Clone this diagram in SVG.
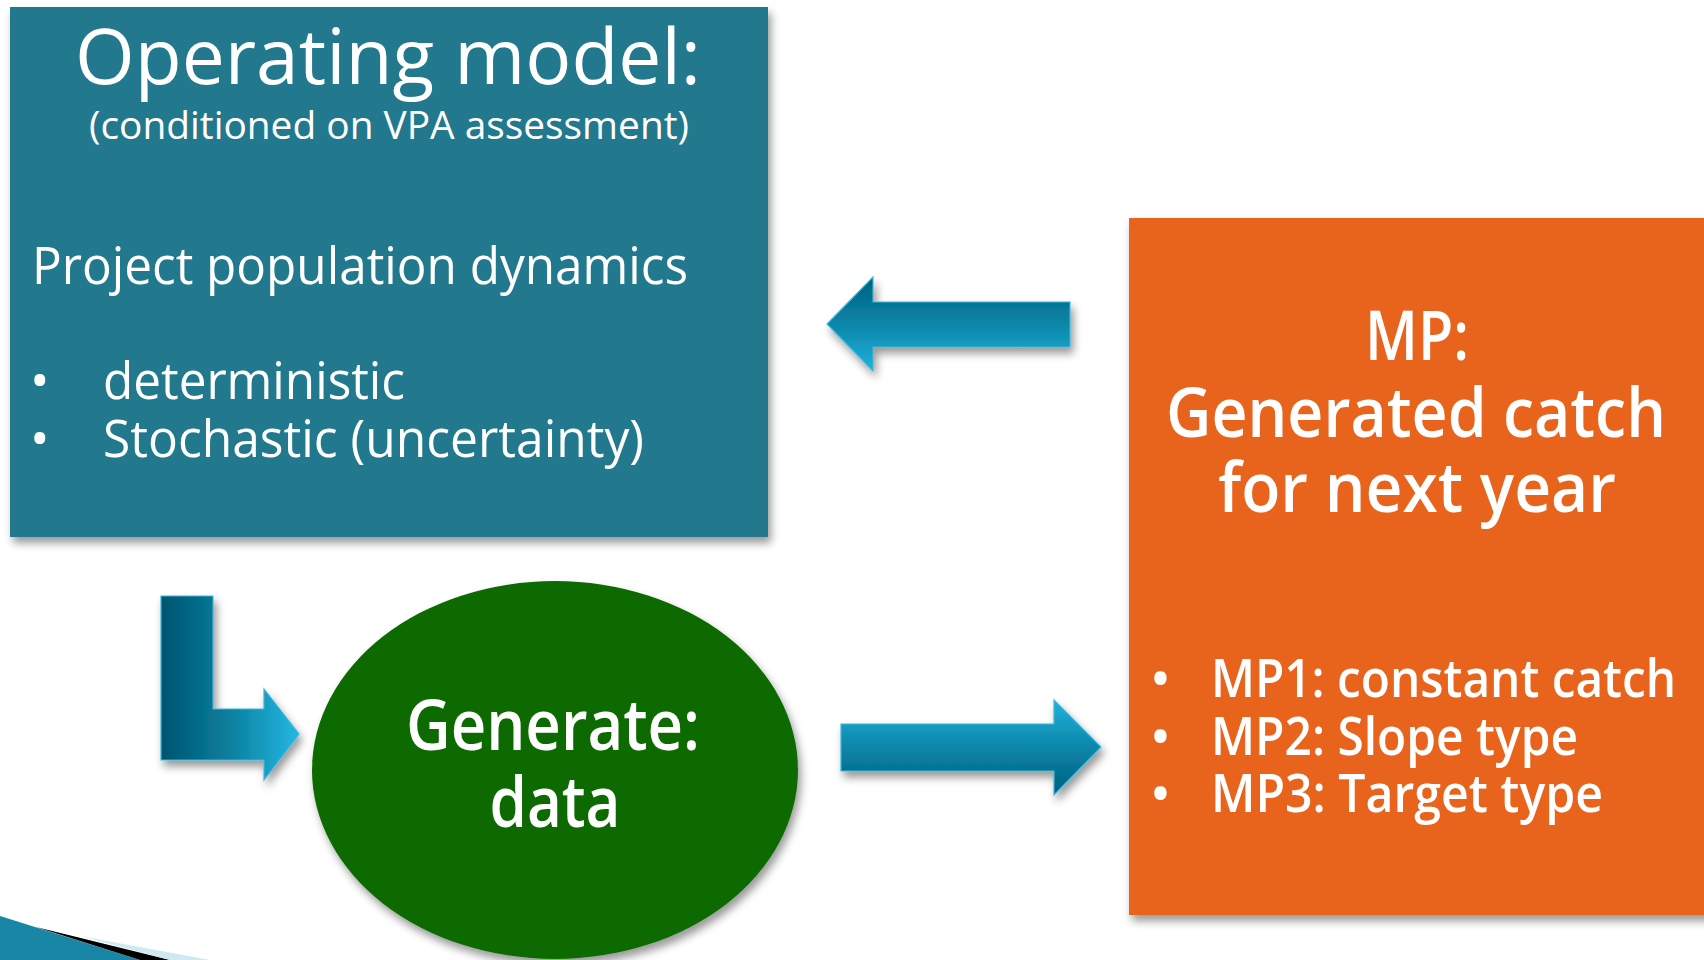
<svg xmlns="http://www.w3.org/2000/svg" width="1704" height="960" viewBox="0 0 1704 960">
  <defs>
    <filter id="shadow" x="-10%" y="-10%" width="125%" height="130%">
      <feDropShadow dx="3" dy="6" stdDeviation="4" flood-color="#000" flood-opacity="0.4"/>
    </filter>
    <linearGradient id="gLeft" x1="0" y1="0" x2="0" y2="1">
      <stop offset="0" stop-color="#005F7C"/>
      <stop offset="0.5" stop-color="#0A86A8"/>
      <stop offset="1" stop-color="#22B2DC"/>
    </linearGradient>
    <linearGradient id="gRight" x1="0" y1="0" x2="0" y2="1">
      <stop offset="0" stop-color="#22B2DC"/>
      <stop offset="0.5" stop-color="#0A86A8"/>
      <stop offset="1" stop-color="#005F7C"/>
    </linearGradient>
    <linearGradient id="gBent" x1="0" y1="0" x2="1" y2="0">
      <stop offset="0" stop-color="#00546F"/>
      <stop offset="0.5" stop-color="#0A809F"/>
      <stop offset="1" stop-color="#25B8E2"/>
    </linearGradient>
    <style>
      text { font-family: "Open Sans", "DejaVu Sans", sans-serif; fill: #ffffff; }
      .bold { font-weight: 600; }
      .arrow { stroke: #3DB6DA; stroke-width: 1.2; filter: url(#shadow); }
    </style>
  </defs>

  <rect width="1704" height="960" fill="#ffffff"/>

  <!-- corner decoration -->
  <g id="corner-decoration">
    <polygon points="0,916 140,960 0,960" fill="#1A86A6"/>
    <polygon points="36,927 170,960 140,960" fill="#000000"/>
    <polygon points="80,936 210,960 170,960" fill="#CFE8F2"/>
  </g>

  <g id="node-operating-model">
    <rect x="10" y="7" width="758" height="530" fill="#22798D" filter="url(#shadow)"/>
    <text x="388" y="84" font-size="76" text-anchor="middle" textLength="626" lengthAdjust="spacingAndGlyphs">Operating model:</text>
    <text x="389" y="139" font-size="38" text-anchor="middle" textLength="600" lengthAdjust="spacingAndGlyphs">(conditioned on VPA assessment)</text>
    <text x="32" y="284" font-size="51" textLength="656" lengthAdjust="spacingAndGlyphs">Project population dynamics</text>
    <text x="30" y="399" font-size="52">•</text>
    <text x="103" y="399" font-size="51" textLength="302" lengthAdjust="spacingAndGlyphs">deterministic</text>
    <text x="30" y="457" font-size="52">•</text>
    <text x="103" y="457" font-size="51" textLength="541" lengthAdjust="spacingAndGlyphs">Stochastic (uncertainty)</text>
  </g>

  <g id="node-mp">
    <rect x="1129" y="218" width="580" height="697" fill="#E8641E" filter="url(#shadow)"/>
    <text class="bold" x="1417" y="360" font-size="68" text-anchor="middle" textLength="104" lengthAdjust="spacingAndGlyphs">MP:</text>
    <text class="bold" x="1416" y="437" font-size="68" text-anchor="middle" textLength="500" lengthAdjust="spacingAndGlyphs">Generated catch</text>
    <text class="bold" x="1417" y="512" font-size="68" text-anchor="middle" textLength="398" lengthAdjust="spacingAndGlyphs">for next year</text>
    <text class="bold" x="1151" y="697" font-size="50">•</text>
    <text class="bold" x="1211" y="697" font-size="52" textLength="465" lengthAdjust="spacingAndGlyphs">MP1: constant catch</text>
    <text class="bold" x="1151" y="755" font-size="50">•</text>
    <text class="bold" x="1211" y="755" font-size="52" textLength="367" lengthAdjust="spacingAndGlyphs">MP2: Slope type</text>
    <text class="bold" x="1151" y="812" font-size="50">•</text>
    <text class="bold" x="1211" y="812" font-size="52" textLength="392" lengthAdjust="spacingAndGlyphs">MP3: Target type</text>
  </g>

  <g id="node-generate">
    <ellipse cx="555" cy="770" rx="243" ry="189" fill="#0F6A00" filter="url(#shadow)"/>
    <text class="bold" x="553" y="750" font-size="70" text-anchor="middle" textLength="294" lengthAdjust="spacingAndGlyphs">Generate:</text>
    <text class="bold" x="555" y="827" font-size="70" text-anchor="middle" textLength="131" lengthAdjust="spacingAndGlyphs">data</text>
  </g>

  <g id="connectors">
    <!-- MP -> Operating model -->
    <polygon class="arrow" fill="url(#gLeft)" points="1070,302 873,302 873,277 827,324 873,371 873,347 1070,347"/>
    <!-- Generate -> MP -->
    <polygon class="arrow" fill="url(#gRight)" points="841,724 1054,724 1054,700 1101,747 1054,795 1054,771 841,771"/>
    <!-- Operating model -> Generate (bent) -->
    <polygon class="arrow" fill="url(#gBent)" points="161,596 213,596 213,709 264,709 264,689 299,734 264,780 264,760 161,760"/>
  </g>
</svg>
